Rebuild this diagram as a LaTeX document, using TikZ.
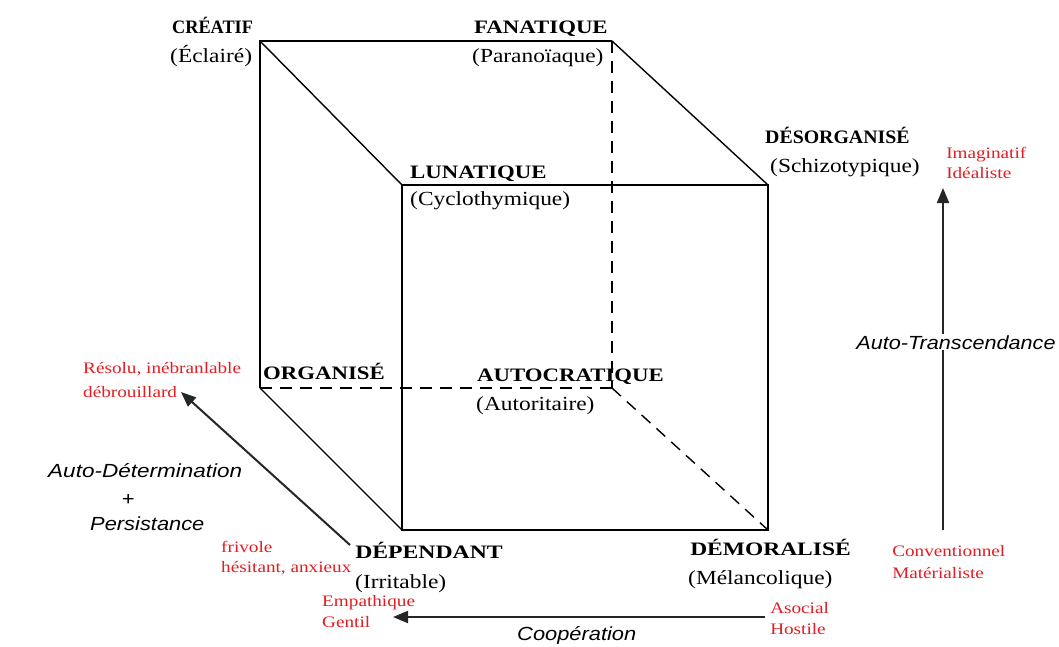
\documentclass[tikz,border=0pt]{standalone}
\usepackage{fontspec}
\setmainfont{Liberation Serif}
\newfontfamily\italsans{Liberation Sans}
\usetikzlibrary{arrows.meta}
\definecolor{lblred}{RGB}{225,30,35}

\tikzset{
  txt/.style={inner sep=0pt, anchor=base west, transform shape},
  trait/.style={txt, font=\fontsize{19}{19}\selectfont\bfseries, xscale=1.2},
  sub/.style={txt, font=\fontsize{20}{20}\selectfont, xscale=1.17},
  note/.style={txt, text=lblred, font=\fontsize{16}{16}\selectfont, xscale=1.2},
  axis/.style={txt, font=\fontsize{19}{19}\selectfont\italsans\itshape, xscale=1.15},
  edge/.style={line width=1.4pt, black},
  hidden/.style={edge, dash pattern=on 12pt off 8pt},
  axarrow/.style={line width=2pt, black!85, -{Triangle[length=15pt,width=12pt]}}
}

\begin{document}
\begin{tikzpicture}[x=1pt,y=1pt]
  \fill[white] (0,0) rectangle (1059,-646);
  \useasboundingbox (0,0) rectangle (1059,-646);

  % cube corners: back face and front face
  \coordinate (b1) at (260,-41);
  \coordinate (b2) at (612,-41);
  \coordinate (b3) at (612,-388);
  \coordinate (b4) at (260,-388);
  \coordinate (f1) at (402,-185);
  \coordinate (f2) at (768,-185);
  \coordinate (f3) at (768,-530);
  \coordinate (f4) at (402,-530);

  % visible edges
  \draw[edge] (b4) -- (b1) -- (b2);
  \draw[edge] (f1) rectangle (f3);
  \draw[edge] (b1) -- (f1);
  \draw[edge] (b2) -- (f2);
  \draw[edge] (b4) -- (f4);
  % hidden edges
  \draw[hidden] (b2) -- (b3);
  \draw[hidden] (b4) -- (b3);
  \draw[hidden] (b3) -- (f3);

  % corner labels
  \node[trait, xscale=0.8] (creatif) at (172,-33) {CRÉATIF};
  \node[sub]   (eclaire) at (170,-62) {(Éclairé)};
  \node[trait] (fanat)   at (474,-33) {FANATIQUE};
  \node[sub]   (parano)  at (472,-62) {(Paranoïaque)};
  \node[trait, xscale=0.87] (desorg)  at (765,-143) {DÉSORGANISÉ};
  \node[sub]   (schizo)  at (770,-172) {(Schizotypique)};
  \node[trait] (lunat)   at (410,-178) {LUNATIQUE};
  \node[sub]   (cyclo)   at (410,-205) {(Cyclothymique)};
  \node[trait] (organ)   at (263,-379) {ORGANISÉ};
  \node[trait] (autocr)  at (477,-381) {AUTOCRATIQUE};
  \node[sub]   (autor)   at (476,-410) {(Autoritaire)};
  \node[trait, xscale=1.04] (depend)  at (355,-558) {DÉPENDANT};
  \node[sub]   (irrit)   at (355,-588) {(Irritable)};
  \node[trait, xscale=1.03] (demor)   at (690,-555) {DÉMORALISÉ};
  \node[sub]   (melanc)  at (688,-584) {(Mélancolique)};

  % trait notes
  \node[note] (imag)  at (946,-158) {Imaginatif};
  \node[note] (ideal) at (946,-178) {Idéaliste};
  \node[note] (resol) at (83,-373) {Résolu, inébranlable};
  \node[note] (debr)  at (83,-397) {débrouillard};
  \node[note] (friv)  at (221,-552) {frivole};
  \node[note] (hesit) at (221,-572) {hésitant, anxieux};
  \node[note] (empa)  at (322,-606) {Empathique};
  \node[note] (gent)  at (322,-627) {Gentil};
  \node[note] (asoc)  at (770,-613) {Asocial};
  \node[note] (host)  at (770,-634) {Hostile};
  \node[note] (conv)  at (892,-556) {Conventionnel};
  \node[note] (mater) at (892,-578) {Matérialiste};

  % axis arrows
  \coordinate (vS) at (943,-530);
  \coordinate (vE) at (943,-188);
  \coordinate (dS) at (350,-545);
  \coordinate (dE) at (181,-392);
  \coordinate (hS) at (765,-617);
  \coordinate (hE) at (393,-617);
  \draw[axarrow] (vS) -- (vE);
  \draw[axarrow] (dS) -- (dE);
  \draw[axarrow] (hS) -- (hE);

  % axis names
  \node[axis, fill=white, inner sep=1pt, xscale=0.99] (trans) at (855,-349) {Auto-Transcendance};
  \node[axis, xscale=1.03] (determ) at (48,-477) {Auto-Détermination};
  \node[axis, anchor=base] (plus) at (128,-505) {+};
  \node[axis] (persist) at (90,-530) {Persistance};
  \node[axis] (coop) at (517,-640) {Coopération};
\end{tikzpicture}
\end{document}
